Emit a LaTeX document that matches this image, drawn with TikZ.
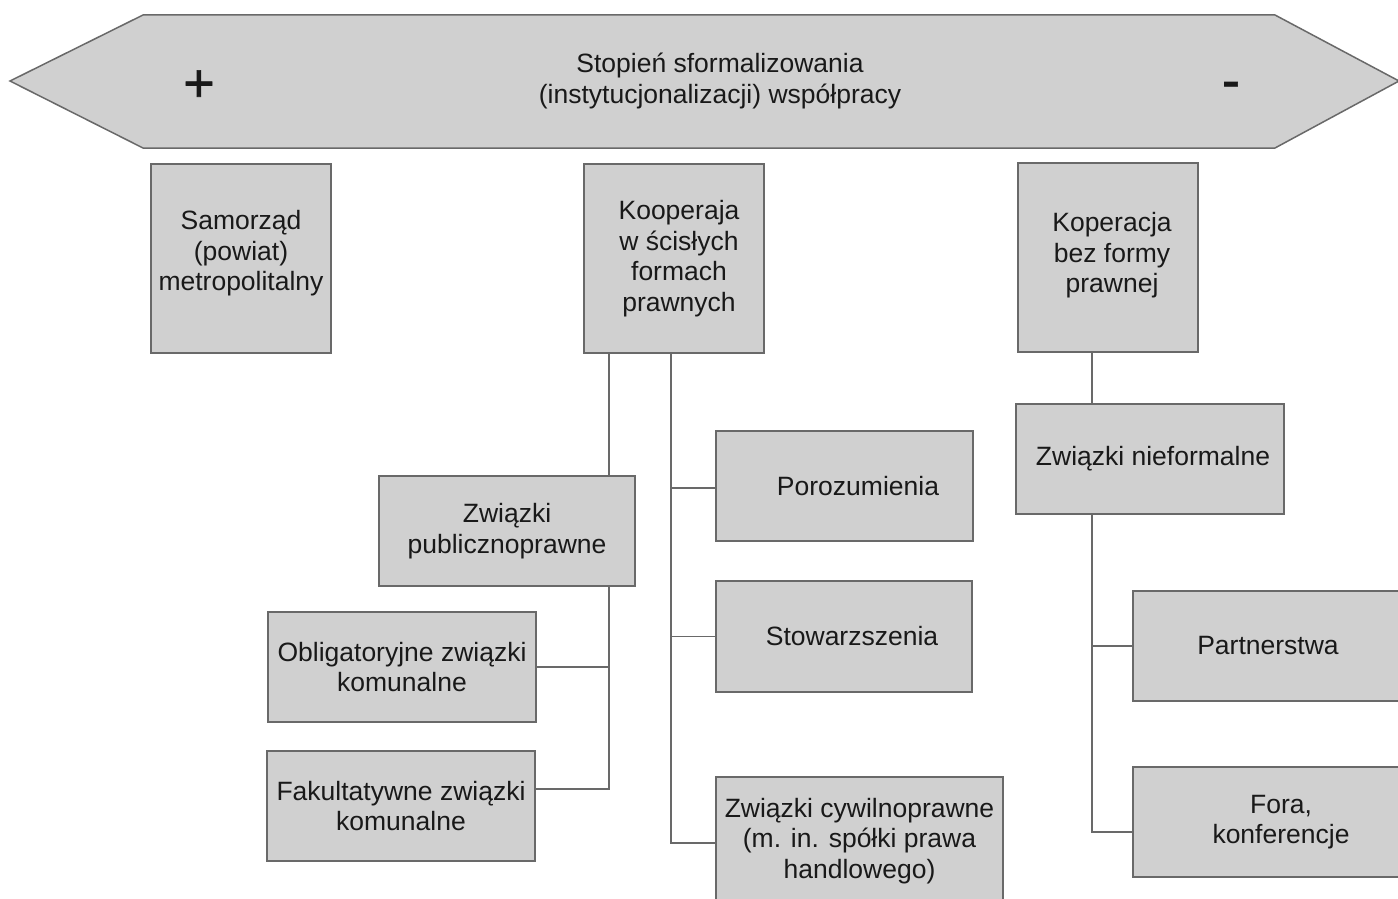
\documentclass[tikz,border=0pt]{standalone}
\usepackage{fontspec}
\setmainfont{Liberation Sans}
\newfontfamily\signfont{Liberation Sans}[FakeBold=1.2]
\definecolor{boxfill}{RGB}{208,208,208}
\definecolor{boxline}{RGB}{105,105,105}
\definecolor{txt}{RGB}{25,25,25}
\begin{document}
\begin{tikzpicture}[x=1pt,y=-1pt,
  box/.style={draw=boxline,fill=boxfill,line width=1.5pt,inner sep=0pt,align=center,text=txt,font=\fontsize{26.5}{30.5}\selectfont},
  conn/.style={draw=boxline,line width=1.5pt},
  lbl/.style={text=txt,align=center,inner sep=0pt,font=\fontsize{26.5}{30.5}\selectfont},
  sign/.style={text=txt,inner sep=0pt,anchor=base,font=\signfont\fontsize{54}{60}\selectfont}]
\useasboundingbox (0,0) rectangle (1398,899);
\clip (0,0) rectangle (1398,899);
\fill[white] (0,0) rectangle (1398,899);
% banner
\draw[draw=boxline,fill=boxfill,line width=1.5pt] (10,81) -- (143,15) -- (1275,15) -- (1399,81) -- (1275,148) -- (143,148) -- cycle;
\node[lbl] (title) at (720,81) {Stopień sformalizowania\\(instytucjonalizacji) współpracy};
\node[sign] (plus) at (199,101.5) {+};
\node[sign] (minus) at (1231,98.5) {-};
% top boxes
\node[box,minimum width=180,minimum height=189] (sam) at (241,258.5) {Samorząd\\(powiat)\\metropolitalny\rule[-15.5pt]{0pt}{1pt}};
\node[box,minimum width=180,minimum height=189] (koop) at (674,258.5) {\hspace*{10pt}Kooperaja\\\hspace*{10pt}w ścisłych\\\hspace*{10pt}formach\\\hspace*{10pt}prawnych};
\node[box,minimum width=180,minimum height=189] (kbf) at (1108,257.5) {\hspace*{8pt}Koperacja\\\hspace*{8pt}bez formy\\\hspace*{8pt}prawnej\rule[-10pt]{0pt}{1pt}};
% second level
\node[box,minimum width=268,minimum height=110] (znf) at (1150,459) {\hspace*{6pt}Związki nieformalne};
\node[box,minimum width=256,minimum height=110] (zpp) at (507,531) {Związki\\publicznoprawne};
\node[box,minimum width=257,minimum height=110] (por) at (844.5,486) {\hspace*{27pt}Porozumienia};
\node[box,minimum width=256,minimum height=111] (sto) at (844,636.5) {\hspace*{16pt}Stowarzszenia};
\node[box,minimum width=287,minimum height=128] (zc) at (859.5,841) {Związki cywilnoprawne\\(m. in. spółki prawa\\handlowego)};
\node[box,minimum width=268,minimum height=110] (obl) at (402,667) {Obligatoryjne związki\\komunalne};
\node[box,minimum width=268,minimum height=110] (fak) at (401,806) {Fakultatywne związki\\komunalne};
\node[box,minimum width=280,minimum height=110] (par) at (1273,646) {Partnerstwa\hspace*{10pt}};
\node[box,minimum width=290,minimum height=110] (fora) at (1278,822) {\hspace*{6pt}Fora,\\\hspace*{6pt}konferencje};
% connectors
\coordinate (xL) at (609,0);
\coordinate (xR) at (671,0);
\coordinate (xN) at (1092,0);
\draw[conn] (koop.south -| xL) -- (zpp.north -| xL);
\draw[conn] (koop.south -| xR) |- ([yshift=-2pt]zc.west);
\draw[conn] ([yshift=-2pt]por.west -| xR) -- ([yshift=-2pt]por.west);
\draw[conn] (sto.west -| xR) -- (sto.west);
\draw[conn] (zpp.south -| xL) |- ([yshift=17pt]fak.east);
\draw[conn] (obl.east -| xL) -- (obl.east);
\draw[conn] (kbf.south -| xN) -- (znf.north -| xN);
\draw[conn] (znf.south -| xN) |- ([yshift=-10pt]fora.west);
\draw[conn] (par.west -| xN) -- (par.west);
\end{tikzpicture}
\end{document}
